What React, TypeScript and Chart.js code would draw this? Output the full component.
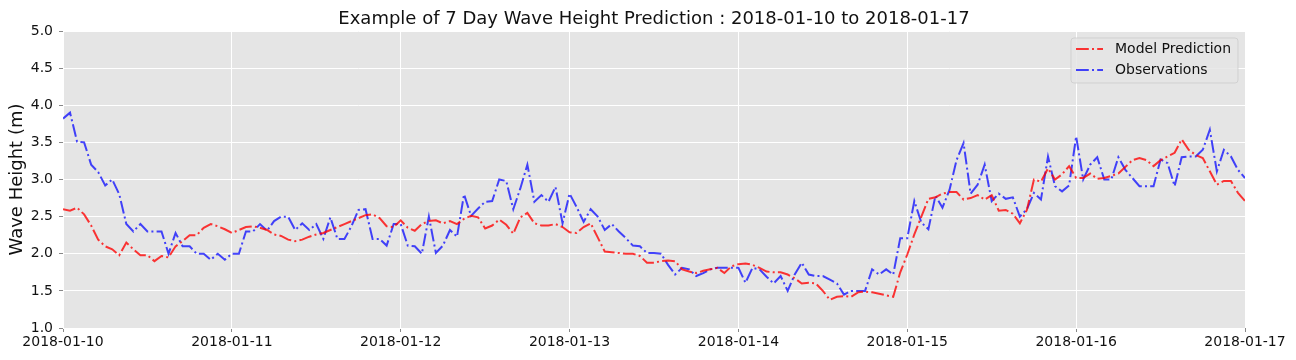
import { useEffect, useRef } from 'react';
import { Chart, registerables } from 'chart.js';

Chart.register(...registerables);

const chartTitle = 'Example of 7 Day Wave Height Prediction : 2018-01-10 to 2018-01-17';
const yAxisTitle = 'Wave Height (m)';
const dateLabels = ['2018-01-10', '2018-01-11', '2018-01-12', '2018-01-13', '2018-01-14', '2018-01-15', '2018-01-16', '2018-01-17'];
const seriesNames = ['Model Prediction', 'Observations'];

// hourly values, hour 0 .. 168
const modelPrediction = [
  2.60, 2.58, 2.62, 2.53, 2.38, 2.19, 2.10, 2.06, 1.98, 2.15,
  2.06, 1.98, 1.98, 1.90, 1.97, 1.95, 2.10, 2.17, 2.25, 2.25,
  2.35, 2.40, 2.37, 2.33, 2.28, 2.32, 2.36, 2.37, 2.35, 2.32,
  2.26, 2.24, 2.19, 2.17, 2.19, 2.23, 2.26, 2.28, 2.32, 2.36,
  2.40, 2.44, 2.48, 2.52, 2.53, 2.48, 2.37, 2.36, 2.45, 2.35,
  2.31, 2.40, 2.44, 2.45, 2.41, 2.44, 2.40, 2.47, 2.51, 2.49,
  2.34, 2.38, 2.46, 2.39, 2.27, 2.49, 2.55, 2.41, 2.38, 2.38,
  2.40, 2.36, 2.29, 2.28, 2.36, 2.41, 2.22, 2.03, 2.02, 2.01,
  2.00, 2.00, 1.97, 1.88, 1.88, 1.90, 1.91, 1.90, 1.79, 1.76,
  1.74, 1.77, 1.79, 1.81, 1.74, 1.83, 1.86, 1.87, 1.85, 1.81,
  1.76, 1.75, 1.75, 1.72, 1.67, 1.60, 1.61, 1.60, 1.50, 1.38,
  1.42, 1.43, 1.42, 1.48, 1.49, 1.48, 1.46, 1.44, 1.42, 1.75,
  1.99, 2.26, 2.50, 2.74, 2.76, 2.81, 2.83, 2.83, 2.73, 2.75,
  2.79, 2.73, 2.79, 2.58, 2.59, 2.54, 2.41, 2.59, 3.00, 2.97,
  3.15, 3.00, 3.07, 3.18, 3.02, 3.02, 3.08, 3.01, 3.02, 3.05,
  3.08, 3.17, 3.26, 3.29, 3.26, 3.18, 3.26, 3.31, 3.36, 3.54,
  3.40, 3.33, 3.29, 3.11, 2.93, 2.98, 2.98, 2.82, 2.71,
];

const observations = [
  3.82, 3.90, 3.51, 3.50, 3.20, 3.10, 2.92, 3.00, 2.80, 2.40,
  2.30, 2.40, 2.30, 2.30, 2.30, 2.00, 2.28, 2.10, 2.10, 2.00,
  2.00, 1.92, 2.00, 1.92, 2.00, 2.00, 2.30, 2.30, 2.40, 2.31,
  2.44, 2.50, 2.50, 2.32, 2.41, 2.32, 2.40, 2.20, 2.49, 2.20,
  2.20, 2.37, 2.59, 2.60, 2.20, 2.20, 2.11, 2.40, 2.40, 2.11,
  2.10, 2.00, 2.50, 2.01, 2.11, 2.32, 2.23, 2.80, 2.51, 2.61,
  2.70, 2.71, 3.00, 2.98, 2.60, 2.88, 3.20, 2.70, 2.79, 2.70,
  2.90, 2.41, 2.81, 2.63, 2.43, 2.60, 2.50, 2.32, 2.40, 2.30,
  2.21, 2.11, 2.10, 2.01, 2.01, 2.00, 1.85, 1.72, 1.81, 1.79,
  1.70, 1.74, 1.79, 1.81, 1.81, 1.81, 1.81, 1.61, 1.81, 1.79,
  1.69, 1.60, 1.70, 1.50, 1.72, 1.88, 1.72, 1.70, 1.70, 1.65,
  1.60, 1.45, 1.50, 1.50, 1.50, 1.79, 1.72, 1.79, 1.72, 2.21,
  2.21, 2.71, 2.42, 2.33, 2.78, 2.62, 2.86, 3.26, 3.49, 2.81,
  2.93, 3.20, 2.71, 2.81, 2.74, 2.76, 2.50, 2.60, 2.82, 2.73,
  3.31, 2.91, 2.84, 2.92, 3.58, 3.00, 3.20, 3.30, 3.00, 3.00,
  3.30, 3.13, 3.02, 2.91, 2.91, 2.91, 3.27, 3.22, 2.91, 3.30,
  3.31, 3.31, 3.40, 3.67, 3.11, 3.40, 3.31, 3.13, 3.02,
];

const FONT = "'DejaVu Sans', sans-serif";
const TEXT = '#111111';
const RED = 'rgba(255, 0, 0, 0.78)';
const BLUE = 'rgba(0, 0, 255, 0.72)';
const DASH = [12.8, 3.2, 2, 3.2];

const toPoints = (arr: number[]) => arr.map((v, i) => ({ x: i, y: v }));

const bgPlugin = {
  id: 'plotBg',
  beforeDraw(chart: any) {
    const { ctx, chartArea } = chart;
    ctx.save();
    ctx.fillStyle = '#E5E5E5';
    ctx.fillRect(chartArea.left, chartArea.top, chartArea.right - chartArea.left, chartArea.bottom - chartArea.top);
    ctx.restore();
  },
  afterDraw(chart: any) {
    const { ctx, chartArea } = chart;
    ctx.save();
    ctx.font = `18px ${FONT}`;
    ctx.fillStyle = TEXT;
    ctx.textAlign = 'center';
    ctx.textBaseline = 'middle';
    ctx.fillText(chartTitle, (chartArea.left + chartArea.right) / 2, 19);
    ctx.restore();
  },
};

const legendPlugin = {
  id: 'insideLegend',
  afterDraw(chart: any) {
    const { ctx, chartArea } = chart;
    const w = 167;
    const h = 45;
    const x = chartArea.right - 7 - w;
    const y = chartArea.top + 7;
    ctx.save();
    ctx.beginPath();
    const r = 3;
    ctx.moveTo(x + r, y);
    ctx.lineTo(x + w - r, y);
    ctx.quadraticCurveTo(x + w, y, x + w, y + r);
    ctx.lineTo(x + w, y + h - r);
    ctx.quadraticCurveTo(x + w, y + h, x + w - r, y + h);
    ctx.lineTo(x + r, y + h);
    ctx.quadraticCurveTo(x, y + h, x, y + h - r);
    ctx.lineTo(x, y + r);
    ctx.quadraticCurveTo(x, y, x + r, y);
    ctx.closePath();
    ctx.fillStyle = 'rgba(229,229,229,0.85)';
    ctx.fill();
    ctx.strokeStyle = 'rgba(204,204,204,0.8)';
    ctx.lineWidth = 1;
    ctx.stroke();

    const colors = [RED, BLUE];
    const rows = [y + 11, y + 32];
    ctx.font = `14px ${FONT}`;
    ctx.textBaseline = 'middle';
    ctx.textAlign = 'left';
    seriesNames.forEach((name, i) => {
      ctx.beginPath();
      ctx.setLineDash(DASH);
      ctx.lineWidth = 2;
      ctx.strokeStyle = colors[i];
      ctx.moveTo(x + 5, rows[i]);
      ctx.lineTo(x + 32, rows[i]);
      ctx.stroke();
      ctx.setLineDash([]);
      ctx.fillStyle = TEXT;
      ctx.fillText(name, x + 44, rows[i]);
    });
    ctx.restore();
  },
};

export default function App() {
  const ref = useRef<HTMLCanvasElement | null>(null);

  useEffect(() => {
    if (!ref.current) return;
    const chart = new Chart(ref.current, {
      type: 'line',
      data: {
        datasets: [
          {
            label: seriesNames[0],
            data: toPoints(modelPrediction),
            borderColor: RED,
            borderWidth: 2,
            borderDash: DASH,
            pointRadius: 0,
            fill: false,
            tension: 0,
          },
          {
            label: seriesNames[1],
            data: toPoints(observations),
            borderColor: BLUE,
            borderWidth: 2,
            borderDash: DASH,
            pointRadius: 0,
            fill: false,
            tension: 0,
          },
        ],
      },
      options: {
        responsive: false,
        animation: false,
        layout: { padding: { left: 0, right: 51, top: 31, bottom: 0 } },
        plugins: {
          legend: { display: false },
          tooltip: { enabled: false },
          title: { display: false },
        },
        scales: {
          x: {
            type: 'linear',
            min: 0,
            max: 168,
            afterFit: (s: any) => { s.height = 32; },
            border: { display: false },
            grid: { color: '#FFFFFF', lineWidth: 1, tickColor: '#888888', tickLength: 4 },
            ticks: {
              stepSize: 24,
              autoSkip: false,
              maxRotation: 0,
              padding: 2,
              color: TEXT,
              font: { family: FONT, size: 14 },
              callback: (v: any) => dateLabels[Math.round(Number(v) / 24)],
            },
          },
          y: {
            min: 1,
            max: 5,
            afterFit: (s: any) => { s.width = 63; },
            border: { display: false },
            grid: { color: '#FFFFFF', lineWidth: 1, tickColor: '#888888', tickLength: 4 },
            ticks: {
              stepSize: 0.5,
              padding: 6,
              color: TEXT,
              font: { family: FONT, size: 14 },
              callback: (v: any) => Number(v).toFixed(1),
            },
            title: {
              display: true,
              text: yAxisTitle,
              color: TEXT,
              font: { family: FONT, size: 18 },
              padding: { top: 7, bottom: 0 },
            },
          },
        },
      },
      plugins: [bgPlugin, legendPlugin],
    });
    return () => chart.destroy();
  }, []);

  return (
    <div style={{ position: 'fixed', left: 0, top: 0, width: 1296, height: 360 }}>
      <canvas ref={ref} width={1296} height={360} style={{ display: 'block' }} />
    </div>
  );
}
